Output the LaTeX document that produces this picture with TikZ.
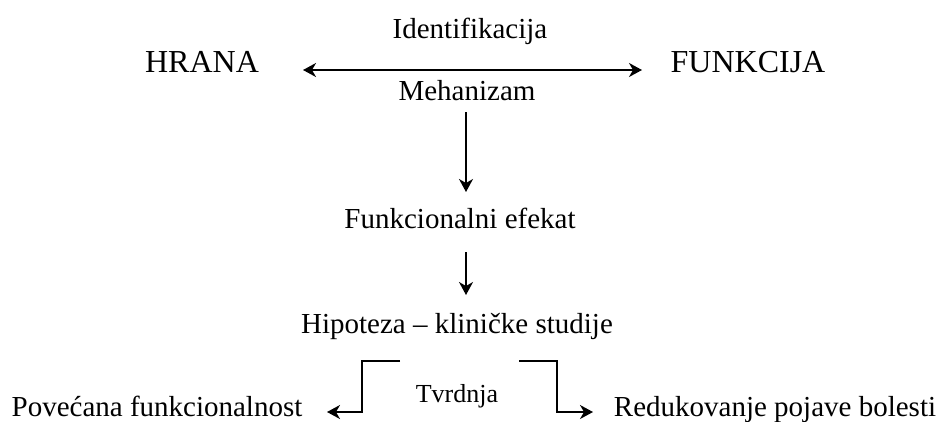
\documentclass[tikz,border=0pt]{standalone}
\usepackage{fontspec}
\setmainfont{Liberation Serif}
\usetikzlibrary{arrows.meta}

\begin{document}
\begin{tikzpicture}[x=1pt, y=-1pt,
    >={Stealth[length=13pt, width=14pt, inset=4pt]},
    lbl/.style={font=\fontsize{29}{34}\selectfont, inner sep=0pt, anchor=base},
    big/.style={lbl, font=\fontsize{32}{38}\selectfont},
    small/.style={lbl, font=\fontsize{26}{31}\selectfont},
    arr/.style={line width=1.5pt}]  % Begins the picture, y runs downwards
    \useasboundingbox (0,0) rectangle (941,421);  % Fixes the page size
    \node[big] (hrana) at (202,72) {HRANA};  % Left term
    \node[big] (funkcija) at (748,72) {FUNKCIJA};  % Right term
    \node[lbl] (ident) at (470,38) {Identifikacija};
    \node[lbl] (meh) at (467,100) {Mehanizam};
    \node[lbl] (efekat) at (460,228) {Funkcionalni efekat};
    \node[lbl] (hipo) at (457,333) {Hipoteza -- kliničke studije};
    \node[small] (tvrd) at (457,402) {Tvrdnja};
    \node[lbl] (pov) at (157,416) {Povećana funkcionalnost};
    \node[lbl] (red) at (775,416) {Redukovanje pojave bolesti};
    \coordinate (lft) at (303,70);  % Ends of the double arrow
    \coordinate (rgt) at (642,70);
    \draw[arr, <->] (lft) -- (rgt);  % Draws the link between the two terms
    \draw[arr, ->] ([shift={(-1,12)}]meh.base) -- ++(0,80);  % Down to the effect
    \draw[arr, ->] ([shift={(6,24)}]efekat.base) -- ++(0,43);  % Down to the hypothesis
    \draw[arr, ->] ([shift={(-57,28)}]hipo.base) -- ++(-38,0) -- ++(0,51) -- ++(-35,0);  % Left branch
    \draw[arr, ->] ([shift={(62,28)}]hipo.base) -- ++(38,0) -- ++(0,51) -- ++(36,0);  % Right branch
\end{tikzpicture}
\end{document}
